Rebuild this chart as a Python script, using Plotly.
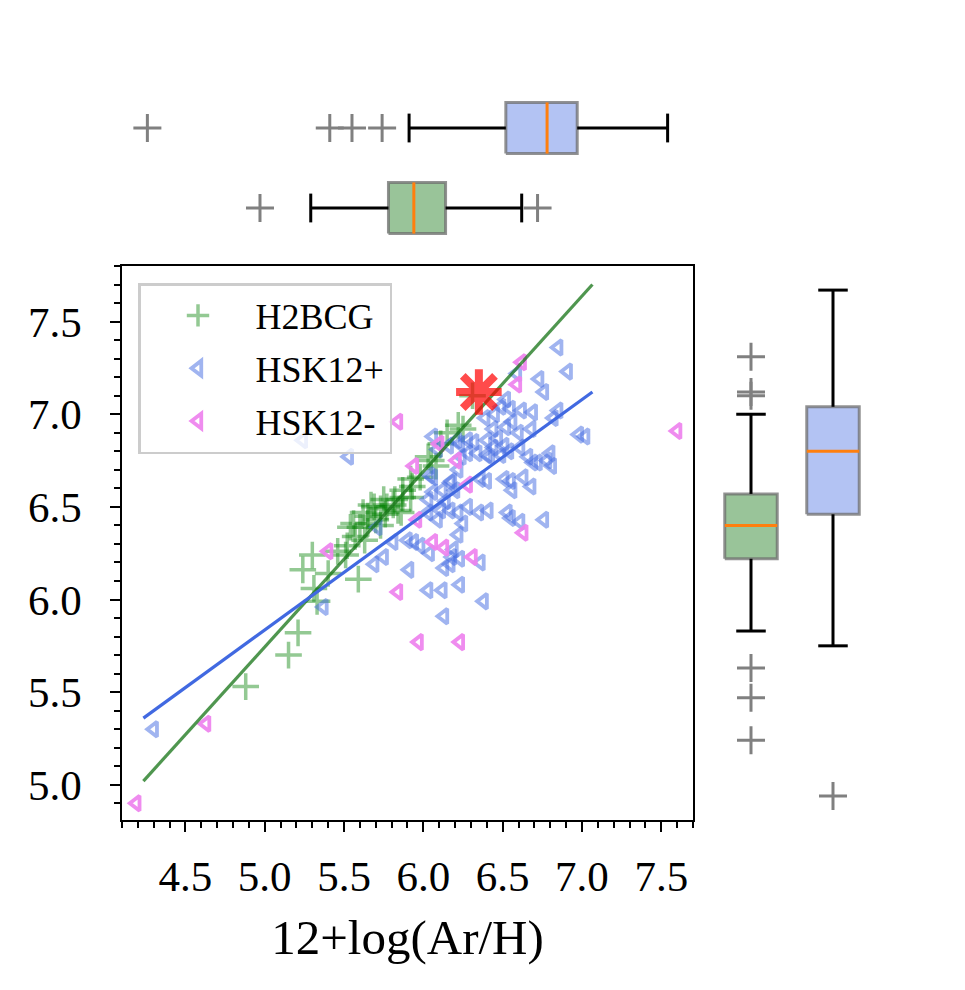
import plotly.graph_objects as go

FONT = "Liberation Serif, Times New Roman, serif"

# H2BCG sample (green pluses): x = 12+log(Ar/H)
h2bcg_x = [4.88, 5.15, 5.21, 5.33, 5.31, 5.24, 5.30, 5.40, 5.59, 5.46, 5.52, 5.51,
           5.54, 5.57, 5.60, 5.63, 5.65, 5.69, 5.70, 5.73, 5.75, 5.76, 5.77, 5.81,
           5.84, 5.86, 5.87, 5.87, 5.92, 5.93, 5.92, 5.98, 6.03, 6.08, 6.11, 6.15,
           6.22, 6.31, 5.56, 5.65, 5.62, 5.67, 5.82, 6.05, 5.73, 6.25]
h2bcg_y = [5.53, 5.70, 5.82, 5.99, 6.06, 6.16, 6.24, 6.14, 6.11, 6.26, 6.29, 6.24,
           6.39, 6.34, 6.39, 6.32, 6.45, 6.50, 6.43, 6.40, 6.54, 6.46, 6.50, 6.51,
           6.48, 6.47, 6.55, 6.59, 6.55, 6.61, 6.65, 6.66, 6.77, 6.72, 6.84, 6.90,
           6.94, 7.10, 6.41, 6.41, 6.47, 6.51, 6.54, 6.75, 6.49, 6.92]

# HSK12+ (blue triangles)
hsk_pos_x = [6.85, 6.91, 6.73, 6.76, 6.59, 6.52, 6.55, 6.62, 6.69, 6.49, 6.45, 6.39,
             6.85, 6.82, 6.52, 6.56, 6.60, 6.68, 6.98, 7.02, 6.44, 6.47, 6.40, 6.32,
             6.28, 6.23, 6.44, 6.51, 6.61, 6.80, 6.34, 6.40, 6.06, 6.09, 6.16, 6.21,
             6.22, 6.24, 6.28, 6.42, 6.49, 6.54, 6.66, 6.72, 6.78, 6.81, 6.17, 6.12,
             6.06, 6.03, 6.14, 6.36, 6.40, 6.51, 6.55, 6.63, 6.68, 6.56, 6.28, 6.35,
             6.17, 6.22, 6.53, 6.55, 6.61, 6.76, 6.03, 6.11, 6.09, 6.25, 6.22, 5.90,
             5.94, 5.98, 6.04, 6.19, 6.18, 6.36, 6.06, 6.18, 5.91, 6.13, 6.17, 6.23,
             6.03, 6.12, 6.23, 6.38, 6.13, 5.69, 5.75, 5.81, 5.71, 5.53, 5.24, 5.37,
             4.30, 6.04, 6.20, 6.69, 6.41]
hsk_pos_y = [7.36, 7.23, 7.19, 7.12, 7.22, 7.08, 7.03, 7.02, 7.01, 7.04, 7.00, 6.98,
             7.02, 6.98, 6.93, 6.96, 6.90, 6.92, 6.89, 6.88, 6.92, 6.87, 6.86, 6.85,
             6.86, 6.84, 6.82, 6.83, 6.82, 6.79, 6.79, 6.78, 6.88, 6.81, 6.83, 6.86,
             6.70, 6.77, 6.79, 6.77, 6.78, 6.80, 6.77, 6.74, 6.75, 6.72, 6.63, 6.59,
             6.58, 6.54, 6.53, 6.65, 6.64, 6.65, 6.64, 6.66, 6.61, 6.59, 6.50, 6.47,
             6.48, 6.47, 6.47, 6.44, 6.42, 6.43, 6.47, 6.48, 6.43, 6.41, 6.35, 6.32,
             6.31, 6.29, 6.25, 6.27, 6.23, 6.20, 6.66, 6.64, 6.16, 6.17, 6.19, 6.22,
             6.05, 6.05, 6.08, 5.99, 5.91, 6.19, 6.23, 6.31, 6.39, 6.77, 6.86, 5.96,
             5.30, 6.67, 6.59, 6.74, 6.48]

# HSK12- (violet triangles)
hsk_neg_x = [4.19, 4.63, 5.40, 5.84, 5.94, 6.10, 6.21, 5.96, 6.28, 5.84, 5.97, 6.23,
             6.06, 6.13, 6.31, 6.63, 7.60, 6.62, 6.59]
hsk_neg_y = [4.90, 5.33, 6.26, 6.96, 6.72, 6.84, 6.75, 6.43, 6.62, 6.04, 5.77, 5.77,
             6.31, 6.28, 6.23, 6.36, 6.91, 7.28, 7.16]

# linear fits (end points)
fit_x = [4.235, 7.066]
fit_h2bcg_y = [5.02, 7.70]
fit_hsk_y = [5.36, 7.12]

# highlighted object
star_x = [6.35]
star_y = [7.12]

# marginal box statistics: [H2BCG, HSK12]
# (q1, median, q3, lower whisker, upper whisker, outliers)
top_stats = [
    (5.78, 5.94, 6.14, 5.29, 6.62, [4.97, 6.72]),
    (6.52, 6.78, 6.97, 5.91, 7.54, [4.26, 5.41, 5.55, 5.74]),
]
right_stats = [
    (6.22, 6.40, 6.57, 5.83, 7.00, [7.31, 7.12, 7.10, 5.63, 5.47, 5.24]),
    (6.46, 6.80, 7.04, 5.75, 7.67, [4.94]),
]
box_fill = ["#99c499", "#b3c3f3"]

GREEN = "green"
BLUE = "royalblue"
VIOLET = "violet"


def _box_traces(stats, pos, fill, horizontal, xaxis, yaxis):
    q1, med, q3, lo, hi, out = stats
    half, cap = 0.32, 0.18
    boxes = [
        ([q1, q3, q3, q1, q1], [pos - half, pos - half, pos + half, pos + half, pos - half],
         dict(mode="lines", fill="toself", fillcolor=fill,
              line=dict(color="rgba(110,110,110,0.75)", width=3))),
        ([lo, q1, None, q3, hi, None, lo, lo, None, hi, hi],
         [pos, pos, None, pos, pos, None, pos - cap, pos + cap, None, pos - cap, pos + cap],
         dict(mode="lines", line=dict(color="black", width=3))),
        ([med, med], [pos - half, pos + half],
         dict(mode="lines", line=dict(color="#ff7f0e", width=3))),
        (out, [pos] * len(out),
         dict(mode="markers", marker=dict(symbol="cross-thin", size=20, color="gray",
                                          line=dict(color="gray", width=3)))),
    ]
    traces = []
    for v, p, kw in boxes:
        x, y = (v, p) if horizontal else (p, v)
        traces.append(go.Scatter(x=x, y=y, xaxis=xaxis, yaxis=yaxis, showlegend=False,
                                 hoverinfo="skip", **kw))
    return traces


fig = go.Figure()

fig.add_trace(go.Scatter(
    x=h2bcg_x, y=h2bcg_y, mode="markers", name="H2BCG", legendgroup="a",
    marker=dict(symbol="cross-thin", size=19, color=GREEN, opacity=0.42,
                line=dict(color=GREEN, width=3.5)),
))
fig.add_trace(go.Scatter(
    x=hsk_pos_x, y=hsk_pos_y, mode="markers", name="HSK12+", legendgroup="b",
    marker=dict(symbol="triangle-left-open", size=13, color=BLUE, opacity=0.5,
                line=dict(color=BLUE, width=3.8)),
))
fig.add_trace(go.Scatter(
    x=hsk_neg_x, y=hsk_neg_y, mode="markers", name="HSK12-", legendgroup="c",
    marker=dict(symbol="triangle-left-open", size=13, color=VIOLET, opacity=0.92,
                line=dict(color=VIOLET, width=3.8)),
))
fig.add_trace(go.Scatter(x=fit_x, y=fit_h2bcg_y, mode="lines", showlegend=False,
                         line=dict(color="rgba(20,115,20,0.75)", width=3.2)))
fig.add_trace(go.Scatter(x=fit_x, y=fit_hsk_y, mode="lines", showlegend=False,
                         line=dict(color=BLUE, width=3.2)))
fig.add_trace(go.Scatter(
    x=star_x, y=star_y, mode="markers", showlegend=False,
    marker=dict(symbol="asterisk", size=38, color="red", opacity=0.7,
                line=dict(color="red", width=8)),
))

for i, st in enumerate(top_stats):
    for tr in _box_traces(st, i + 1, box_fill[i], True, "x", "y2"):
        fig.add_trace(tr)
for i, st in enumerate(right_stats):
    for tr in _box_traces(st, i + 1, box_fill[i], False, "x3", "y"):
        fig.add_trace(tr)

axis_common = dict(
    showgrid=False, zeroline=False, showline=True, linecolor="black", linewidth=1.5,
    mirror=True, ticks="outside", ticklen=10, tickwidth=2, tickcolor="black",
    tick0=0, dtick=0.5, tickformat=".1f",
    tickfont=dict(family=FONT, size=43, color="black"),
    minor=dict(ticks="outside", dtick=0.1, ticklen=6, tickwidth=1.5, tickcolor="black",
               showgrid=False),
)

fig.update_layout(
    width=965, height=990,
    margin=dict(l=0, r=0, t=0, b=0),
    paper_bgcolor="white", plot_bgcolor="white",
    font=dict(family=FONT, color="black"),
    xaxis=dict(domain=[0.11813, 0.70984], range=[4.10, 7.70], anchor="y",
               ticklabelstandoff=8,
               title=dict(text="12+log(Ar/H)", font=dict(family=FONT, size=49), standoff=20),
               **axis_common),
    yaxis=dict(domain=[0.17980, 0.73939], range=[4.81, 7.80], anchor="x",
               ticklabelstandoff=20, **axis_common),
    yaxis2=dict(domain=[0.75758, 0.91919], range=[0.5, 2.5], anchor="x", visible=False),
    xaxis3=dict(domain=[0.72746, 0.89741], range=[0.5, 2.5], anchor="y", visible=False),
    legend=dict(x=0.13472, y=0.72222, xanchor="left", yanchor="top",
                bgcolor="rgba(255,255,255,0.8)", bordercolor="#cccccc", borderwidth=2.5,
                font=dict(family=FONT, size=36, color="black"), itemwidth=105,
                tracegroupgap=3, traceorder="grouped"),
    showlegend=True,
)

fig.write_html("out.html")
